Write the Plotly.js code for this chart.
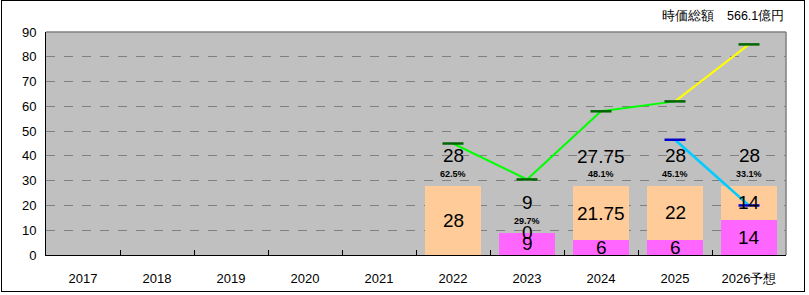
<!DOCTYPE html>
<html>
<head>
<meta charset="utf-8">
<script src="https://cdn.plot.ly/plotly-3.0.1.min.js"></script>
<style>
  html, body { margin: 0; padding: 0; background: #fff; }
  #wrap { position: relative; width: 809px; height: 295px; }
  #chart { width: 809px; height: 295px; }
  #frame { position: absolute; left: 1px; top: 0px; width: 802px; height: 290px; border: 1px solid #000; pointer-events: none; }
</style>
</head>
<body>
<div id="wrap"><div id="chart"></div><div id="frame"></div></div>
<script>
// ---- data ----
const years = ['2017', '2018', '2019', '2020', '2021', '2022', '2023', '2024', '2025', '2026予想'];
const magenta = [null, null, null, null, null, null, 9, 6, 6, 14];
const peach   = [null, null, null, null, null, 28, 0, 21.75, 22, 14];
const totals  = [null, null, null, null, null, 28, 9, 27.75, 28, 28];
const pctLabels = [null, null, null, null, null, '62.5%', '29.7%', '48.1%', '45.1%', '33.1%'];
const greenYears = ['2022', '2023', '2024', '2025'];
const greenVals  = [45, 30.5, 58, 62];
const yellowYears = ['2025', '2026予想'];
const yellowVals  = [62, 85];
const blueYears = ['2025', '2026予想'];
const blueVals  = [46.5, 20];
const yTicks = [0, 10, 20, 30, 40, 50, 60, 70, 80, 90];
const headerText = '時価総額　566.1億円';

const FONT = 'Liberation Sans, Arial, sans-serif';

const traces = [
  { type: 'bar', x: years, y: magenta, marker: { color: '#FF66FF' }, width: 0.77, hoverinfo: 'skip' },
  { type: 'bar', x: years, y: peach, marker: { color: '#FFCC99' }, width: 0.77, hoverinfo: 'skip' },
  { type: 'scatter', mode: 'lines', x: greenYears, y: greenVals, line: { color: '#00FF00', width: 2 }, hoverinfo: 'skip' },
  { type: 'scatter', mode: 'lines', x: yellowYears, y: yellowVals, line: { color: '#FFFF00', width: 2 }, hoverinfo: 'skip' },
  { type: 'scatter', mode: 'lines', x: blueYears, y: blueVals, line: { color: '#00CCFF', width: 2.5 }, hoverinfo: 'skip' },
  { type: 'scatter', mode: 'markers', x: greenYears.concat(['2026予想']), y: greenVals.concat([yellowVals[1]]),
    marker: { symbol: 'line-ew', size: 15, line: { color: '#006600', width: 2.5 } }, hoverinfo: 'skip' },
  { type: 'scatter', mode: 'markers', x: blueYears, y: blueVals,
    marker: { symbol: 'line-ew', size: 15, line: { color: '#0000CC', width: 2.5 } }, hoverinfo: 'skip' }
];

const annotations = [];
years.forEach((yr, i) => {
  const m = magenta[i];
  const p = peach[i];
  const base = m == null ? 0 : m;
  if (m != null) {
    annotations.push({ x: i, y: m / 2, text: String(m), showarrow: false, font: { family: FONT, size: 19, color: '#000' } });
  }
  if (p != null) {
    annotations.push({ x: i, y: base + p / 2, text: String(p), showarrow: false, font: { family: FONT, size: 19, color: '#000' } });
  }
  if (totals[i] != null) {
    annotations.push({ x: i, y: totals[i], yshift: 30, text: String(totals[i]), showarrow: false, font: { family: FONT, size: 19, color: '#000' } });
    annotations.push({ x: i, y: totals[i], yshift: 12, text: '<b>' + pctLabels[i] + '</b>', showarrow: false, font: { family: FONT, size: 9, color: '#000' } });
  }
});
annotations.push({ xref: 'paper', yref: 'paper', x: 1, y: 1, xanchor: 'right', yanchor: 'middle', yshift: 16,
  text: headerText, showarrow: false, font: { family: FONT, size: 12.5, color: '#000' } });

const layout = {
  width: 809, height: 295,
  margin: { l: 46, r: 23, t: 32, b: 40, pad: 0 },
  paper_bgcolor: '#FFFFFF',
  plot_bgcolor: '#C0C0C0',
  barmode: 'stack',
  bargap: 0.23,
  showlegend: false,
  font: { family: FONT, size: 13, color: '#000' },
  xaxis: {
    type: 'category', categoryorder: 'array', categoryarray: years,
    range: [-0.5, years.length - 0.5], autorange: false,
    showline: true, linecolor: '#000', linewidth: 1,
    ticks: 'inside', ticklen: 5, tickcolor: '#000', tickson: 'boundaries',
    showgrid: false, zeroline: false, tickangle: 0,
    tickfont: { family: FONT, size: 13, color: '#000' }, ticklabelstandoff: 11
  },
  yaxis: {
    range: [0, 90], autorange: false, tickvals: yTicks, ticktext: yTicks.map(String),
    showline: true, linecolor: '#000', linewidth: 1,
    ticks: '', showgrid: true, gridcolor: '#808080', griddash: 'dash', gridwidth: 1,
    zeroline: false, tickfont: { family: FONT, size: 13, color: '#000' }, ticklabelstandoff: 6
  },
  shapes: [
    { type: 'line', xref: 'paper', yref: 'paper', x0: 0, x1: 1, y0: 1, y1: 1, line: { color: '#808080', width: 1.5 } },
    { type: 'line', xref: 'paper', yref: 'paper', x0: 1, x1: 1, y0: 0, y1: 1, line: { color: '#808080', width: 1.5 } }
  ],
  annotations: annotations
};

Plotly.newPlot('chart', traces, layout, { displayModeBar: false, staticPlot: true });
</script>
</body>
</html>
